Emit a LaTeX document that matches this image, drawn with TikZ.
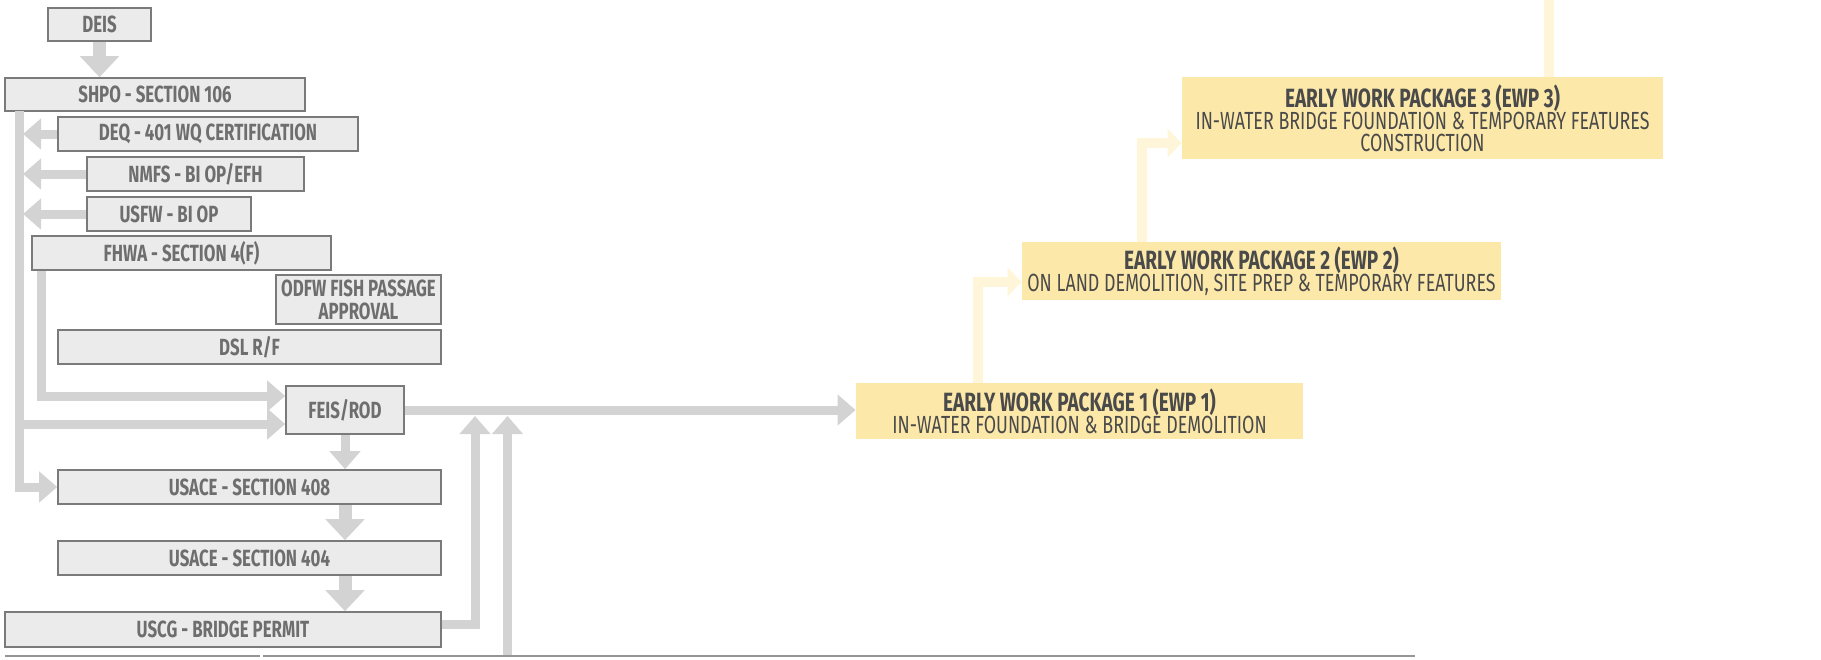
\documentclass[tikz,border=0pt]{standalone}
\usepackage{fontspec}
\setmainfont{Fira Sans}[FakeStretch=0.72]
\usepackage{tikz}
\usetikzlibrary{positioning,arrows.meta}
\definecolor{boxfill}{HTML}{EBEBEB}
\definecolor{boxline}{HTML}{7A7A7A}
\definecolor{boxtext}{HTML}{6E6E6E}
\definecolor{linkgray}{HTML}{D3D3D3}
\definecolor{ewpfill}{HTML}{FCE9AA}
\definecolor{ewplink}{HTML}{FFF5D8}
\definecolor{ewptext}{HTML}{4A4A4A}
\tikzstyle{permit} = [rectangle, draw=boxline, line width=0.8pt, fill=boxfill, text=boxtext, font=\fontsize{11.7}{11.5}\selectfont\bfseries, inner sep=0pt, align=center]
\tikzstyle{ewp} = [rectangle, fill=ewpfill, text=ewptext, font=\fontsize{12.4}{11}\selectfont, inner sep=0pt, align=center]
\tikzstyle{connect} = [draw=linkgray, line width=4.5pt, -{Triangle[width=15pt,length=9pt]}]
\tikzstyle{bigconnect} = [draw=linkgray, line width=6.5pt, -{Triangle[width=19pt,length=10.5pt]}]
\tikzstyle{ewpconnect} = [draw=ewplink, line width=5pt, -{Triangle[width=14pt,length=7pt]}]
\tikzstyle{rule} = [draw=boxline!80, line width=1pt]

\begin{document}
\begin{tikzpicture}[x=0.5pt,y=-0.5pt]
			\useasboundingbox (0,0) rectangle (1821,659);

			\node (deis) [permit, minimum width=51.5pt, minimum height=16.5pt] at (99.5,24.5) {DEIS};
			\node (shpo) [permit, minimum width=150pt, minimum height=16.5pt] at (155,94.5) {SHPO - SECTION 106};
			\node (deq) [permit, minimum width=150pt, minimum height=17pt] at (208,134) {DEQ - 401 WQ CERTIFICATION};
			\node (nmfs) [permit, minimum width=108.5pt, minimum height=17pt] at (195.5,174) {NMFS - BI OP/EFH};
			\node (usfw) [permit, minimum width=82pt, minimum height=17pt] at (169,214) {USFW - BI OP};
			\node (fhwa) [permit, minimum width=149.5pt, minimum height=17pt] at (181.5,253) {FHWA - SECTION 4(F)};
			\node (odfw) [permit, minimum width=82.5pt, minimum height=24.5pt] at (358.5,299.5) {ODFW FISH PASSAGE\\APPROVAL};
			\node (dsl) [permit, minimum width=191.5pt, minimum height=17pt] at (249.5,347) {DSL R/F};
			\node (feis) [permit, minimum width=59pt, minimum height=24pt] at (345,410) {FEIS/ROD};
			\node (sec408) [permit, minimum width=191.5pt, minimum height=17pt] at (249.5,487) {USACE - SECTION 408};
			\node (sec404) [permit, minimum width=191.5pt, minimum height=17pt] at (249.5,558) {USACE - SECTION 404};
			\node (uscg) [permit, minimum width=218pt, minimum height=17.5pt] at (223,629.5) {USCG - BRIDGE PERMIT};

			\node (ewp1) [ewp, minimum width=223.5pt, minimum height=28pt] at (1079.5,411) {\textbf{\fontsize{13.2}{11}\selectfont EARLY WORK PACKAGE 1 (EWP 1)}\\IN-WATER FOUNDATION \& BRIDGE DEMOLITION};
			\node (ewp2) [ewp, minimum width=239.5pt, minimum height=29pt] at (1261.5,271) {\textbf{\fontsize{13.2}{11}\selectfont EARLY WORK PACKAGE 2 (EWP 2)}\\ON LAND DEMOLITION, SITE PREP \& TEMPORARY FEATURES};
			\node (ewp3) [ewp, minimum width=240.5pt, minimum height=41pt] at (1422.5,118) {\textbf{\fontsize{13.2}{11}\selectfont EARLY WORK PACKAGE 3 (EWP 3)}\\IN-WATER BRIDGE FOUNDATION \& TEMPORARY FEATURES\\CONSTRUCTION};

			\coordinate (trunk) at (19,111);
			\coordinate (join1) at (475,416);
			\coordinate (join2) at (507.5,416);
			\coordinate (base2) at (507.5,655);
			\coordinate (top) at (1549,0);

			\draw [bigconnect] (deis.south) -- (deis.south |- shpo.north);
			\draw [connect] (trunk) |- (sec408.west);
			\draw [connect, shorten >=2pt] (deq.west) -- (deq.west -| trunk);
			\draw [connect, shorten >=2pt] (nmfs.west) -- (nmfs.west -| trunk);
			\draw [connect, shorten >=2pt] (usfw.west) -- (usfw.west -| trunk);
			\draw [connect] (fhwa.south west) ++(10,0) |- ([yshift=7pt]feis.west);
			\draw [connect] ([yshift=-7pt]feis.west -| trunk) -- ([yshift=-7pt]feis.west);
			\draw [connect] (feis.south) -- (feis.south |- sec408.north);
			\draw [bigconnect] (sec408.south -| feis.south) -- (sec404.north -| feis.south);
			\draw [bigconnect] (sec404.south -| feis.south) -- (uscg.north -| feis.south);
			\draw [connect] (feis.east) -- (feis.east -| ewp1.west);
			\draw [connect] ([yshift=2.5pt]uscg.east) -| (join1);
			\draw [connect] (base2) -- (join2);

			\draw [ewpconnect] ([xshift=61pt]ewp1.north west) |- ([yshift=-5.5pt]ewp2.west);
			\draw [ewpconnect] ([xshift=60pt]ewp2.north west) |- ([yshift=-12.5pt]ewp3.west);
			\draw [ewplink, line width=5pt] (top) -- (top |- ewp3.north);

			\draw [rule] (5,656) -- (260,656);
			\draw [rule] (263,656) -- (1415,656);

\end{tikzpicture}
\end{document}
